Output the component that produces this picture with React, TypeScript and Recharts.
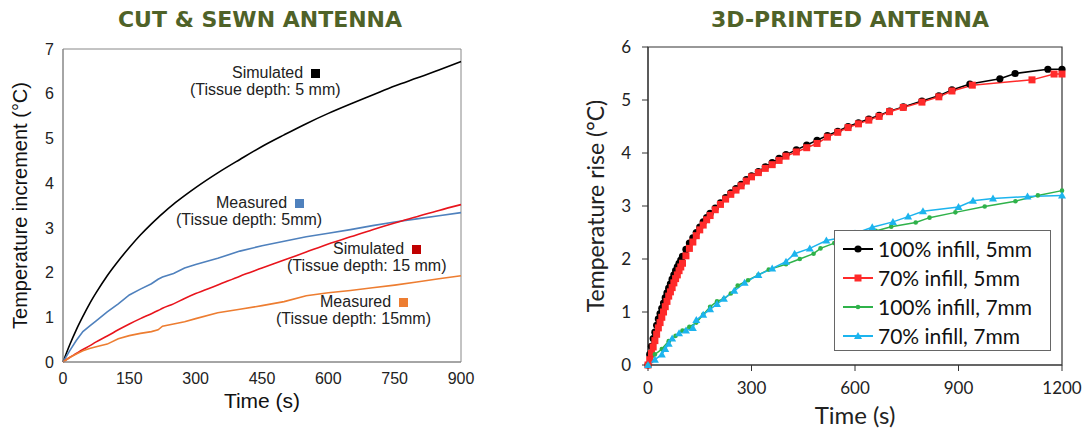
import React from 'react';
import { LineChart, Line, XAxis, YAxis, ReferenceArea, Legend } from 'recharts';

// ---- left panel: cut & sewn antenna ----
const cutTime = [0, 15, 30, 45, 60, 75, 100, 125, 150, 175, 200, 215, 225, 250, 275, 300, 350, 400, 450, 500, 550, 600, 650, 700, 750, 800, 850, 900];
const cutSim5 = [0, 0.38, 0.72, 1.02, 1.3, 1.55, 1.93, 2.26, 2.56, 2.84, 3.09, 3.23, 3.32, 3.53, 3.72, 3.9, 4.23, 4.53, 4.82, 5.08, 5.33, 5.56, 5.77, 5.97, 6.17, 6.35, 6.53, 6.72];
const cutMeas5 = [0, 0.25, 0.48, 0.68, 0.8, 0.92, 1.12, 1.3, 1.5, 1.63, 1.75, 1.85, 1.9, 1.98, 2.1, 2.18, 2.32, 2.48, 2.6, 2.7, 2.8, 2.88, 2.96, 3.05, 3.13, 3.2, 3.27, 3.34];
const cutSim15 = [0, 0.1, 0.19, 0.28, 0.36, 0.45, 0.58, 0.72, 0.85, 0.97, 1.08, 1.15, 1.2, 1.3, 1.42, 1.53, 1.72, 1.92, 2.1, 2.28, 2.46, 2.64, 2.8, 2.96, 3.11, 3.25, 3.39, 3.52];
const cutMeas15 = [0, 0.1, 0.18, 0.25, 0.3, 0.34, 0.4, 0.52, 0.59, 0.64, 0.68, 0.72, 0.8, 0.85, 0.9, 0.97, 1.1, 1.18, 1.26, 1.35, 1.48, 1.55, 1.6, 1.66, 1.72, 1.79, 1.86, 1.93];
const cutTicksX = [0, 150, 300, 450, 600, 750, 900];
const cutTicksY = [0, 1, 2, 3, 4, 5, 6, 7];

const cutData = cutTime.map((t, i) => ({
  t,
  sim5: cutSim5[i],
  meas5: cutMeas5[i],
  sim15: cutSim15[i],
  meas15: cutMeas15[i],
}));

// ---- right panel: 3D-printed antenna ----
const p100x5T = [0, 5, 10, 15, 20, 25, 30, 35, 40, 45, 50, 55, 60, 65, 70, 75, 80, 85, 90, 95, 100, 110, 120, 130, 140, 150, 160, 170, 180, 195, 210, 225, 240, 255, 270, 285, 300, 320, 340, 360, 380, 400, 430, 460, 490, 520, 550, 580, 610, 640, 670, 700, 740, 794, 843, 881, 933, 1020, 1064, 1159, 1200];
const p100x5V = [0, 0.2, 0.35, 0.5, 0.62, 0.75, 0.87, 0.97, 1.07, 1.17, 1.27, 1.36, 1.45, 1.53, 1.62, 1.7, 1.78, 1.85, 1.92, 1.98, 2.05, 2.18, 2.3, 2.4, 2.5, 2.6, 2.7, 2.78, 2.86, 2.96, 3.06, 3.16, 3.25, 3.33, 3.41, 3.5, 3.57, 3.65, 3.74, 3.82, 3.9, 3.97, 4.06, 4.15, 4.24, 4.33, 4.41, 4.5, 4.57, 4.64, 4.71, 4.79, 4.87, 4.98, 5.08, 5.19, 5.3, 5.4, 5.5, 5.58, 5.58];
const p70x5T = [0, 5, 10, 15, 20, 25, 30, 35, 40, 45, 50, 55, 60, 65, 70, 75, 80, 85, 90, 95, 100, 110, 120, 130, 140, 150, 160, 170, 180, 195, 210, 225, 240, 255, 270, 285, 300, 320, 340, 360, 380, 400, 430, 460, 490, 520, 550, 580, 610, 640, 670, 700, 740, 794, 843, 881, 940, 1113, 1177, 1200];
const p70x5V = [0, 0.1, 0.22, 0.34, 0.46, 0.58, 0.7, 0.8, 0.9, 1.0, 1.1, 1.2, 1.3, 1.38, 1.46, 1.55, 1.63, 1.7, 1.78, 1.85, 1.92, 2.06, 2.2, 2.32, 2.44, 2.55, 2.64, 2.74, 2.82, 2.93, 3.03, 3.13, 3.22, 3.3, 3.38, 3.47, 3.55, 3.63, 3.71, 3.78, 3.86, 3.94, 4.02, 4.1, 4.18, 4.3, 4.39, 4.48, 4.55, 4.62, 4.69, 4.78, 4.86, 4.96, 5.06, 5.17, 5.28, 5.38, 5.49, 5.49];
const p100x7T = [0, 20, 40, 60, 80, 100, 120, 140, 160, 180, 200, 220, 240, 260, 290, 320, 350, 400, 440, 480, 500, 540, 580, 620, 660, 705, 776, 816, 891, 976, 1065, 1130, 1200];
const p100x7V = [0, 0.2, 0.3, 0.45, 0.55, 0.65, 0.72, 0.8, 0.95, 1.1, 1.2, 1.25, 1.35, 1.5, 1.6, 1.7, 1.8, 1.9, 2.0, 2.1, 2.2, 2.3, 2.38, 2.45, 2.53, 2.61, 2.69, 2.78, 2.88, 2.99, 3.09, 3.2, 3.29];
const p70x7T = [0, 20, 40, 50, 60, 70, 90, 110, 130, 140, 160, 180, 200, 220, 250, 280, 320, 360, 400, 425, 469, 517, 560, 600, 650, 710, 754, 797, 900, 942, 1000, 1100, 1200];
const p70x7V = [0, 0.1, 0.2, 0.3, 0.4, 0.5, 0.6, 0.65, 0.7, 0.85, 0.95, 1.05, 1.15, 1.25, 1.4, 1.55, 1.7, 1.82, 1.95, 2.1, 2.2, 2.35, 2.4, 2.48, 2.6, 2.7, 2.8, 2.9, 2.98, 3.1, 3.14, 3.18, 3.2];
const printTicksX = [0, 300, 600, 900, 1200];
const printTicksY = [0, 1, 2, 3, 4, 5, 6];

const zip = (ts: number[], vs: number[]) => ts.map((t, i) => ({ t, v: vs[i] }));

const printSeries = [
  { name: '100% infill, 5mm', color: '#000000', marker: 'circle', data: zip(p100x5T, p100x5V) },
  { name: '70% infill, 5mm', color: '#ff2a2a', marker: 'square', data: zip(p70x5T, p70x5V) },
  { name: '100% infill, 7mm', color: '#2fb24a', marker: 'dot', data: zip(p100x7T, p100x7V) },
  { name: '70% infill, 7mm', color: '#1cb4ee', marker: 'triangle', data: zip(p70x7T, p70x7V) },
];

const Marker = ({ kind, cx, cy, color }: { kind: string; cx: number; cy: number; color: string }) => {
  if (kind === 'square') return <rect x={cx - 3.5} y={cy - 3.5} width={7} height={7} fill={color} />;
  if (kind === 'triangle')
    return <polygon points={`${cx},${cy - 4} ${cx - 4},${cy + 3} ${cx + 4},${cy + 3}`} fill={color} />;
  if (kind === 'dot') return <circle cx={cx} cy={cy} r={2.3} fill={color} />;
  return <circle cx={cx} cy={cy} r={3.6} fill={color} />;
};

const notes = [
  { top: 64, left: 232, label: 'Simulated', sub: '(Tissue depth: 5 mm)', subLeft: 190, color: '#000000' },
  { top: 194, left: 216, label: 'Measured', sub: '(Tissue depth: 5mm)', subLeft: 176, color: '#4f81bd' },
  { top: 240, left: 333, label: 'Simulated', sub: '(Tissue depth: 15 mm)', subLeft: 287, color: '#c00000' },
  { top: 293, left: 320, label: 'Measured', sub: '(Tissue depth: 15mm)', subLeft: 276, color: '#ed7d31' },
];

const titleStyle: React.CSSProperties = {
  position: 'absolute',
  top: 8,
  fontFamily: 'DejaVu Sans',
  fontWeight: 'bold',
  fontSize: 22,
  color: '#4f6228',
  textAlign: 'center',
  lineHeight: '24px',
  whiteSpace: 'nowrap',
};

const PrintLegend = () => (
  <div style={{ width: 217, height: 121, border: '1px solid #666', background: '#fff', boxSizing: 'border-box', paddingTop: 3 }}>
    {printSeries.map((s) => (
      <div key={s.name} style={{ display: 'flex', alignItems: 'center', height: 29 }}>
        <svg width={44} height={20} style={{ marginLeft: 8 }}>
          <line x1={0} y1={10} x2={30} y2={10} stroke={s.color} strokeWidth={2} />
          <Marker kind={s.marker} cx={15} cy={10} color={s.color} />
        </svg>
        <span style={{ fontFamily: 'Lato', fontSize: 21, color: '#111', marginLeft: -9 }}>{s.name}</span>
      </div>
    ))}
  </div>
);

export default function App() {
  const leftTick = { fontFamily: 'Liberation Sans', fontSize: 16, fill: '#222' };
  const rightTick = { fontFamily: 'Lato', fontSize: 17, fill: '#222' };
  return (
    <div style={{ position: 'absolute', left: 0, top: 0, width: 1088, height: 430, background: '#fff' }}>
      <div style={{ ...titleStyle, left: 100, width: 320 }}>CUT &amp; SEWN ANTENNA</div>
      <div style={{ ...titleStyle, left: 690, width: 320 }}>3D-PRINTED ANTENNA</div>

      <div style={{ position: 'absolute', left: 0, top: 0 }}>
        <LineChart width={480} height={430} data={cutData} margin={{ top: 49, right: 19, bottom: 0, left: 0 }}>
          <XAxis
            dataKey="t"
            type="number"
            domain={[0, 900]}
            ticks={cutTicksX}
            height={68}
            tickSize={0}
            tickMargin={11}
            stroke="#888"
            tick={leftTick}
            label={{ value: 'Time (s)', position: 'insideBottom', offset: 22, style: { fontFamily: 'Liberation Sans', fontSize: 21, fill: '#111' } }}
          />
          <YAxis
            type="number"
            domain={[0, 7]}
            ticks={cutTicksY}
            width={63}
            tickSize={0}
            tickMargin={9}
            stroke="#888"
            tick={leftTick}
            label={{ value: 'Temperature increment (°C)', angle: -90, position: 'insideLeft', offset: 20, style: { textAnchor: 'middle', fontFamily: 'Liberation Sans', fontSize: 20, fill: '#111' } }}
          />
          <ReferenceArea x1={0} x2={900} y1={0} y2={7} fill="none" stroke="#888" strokeWidth={1} />
          <Line dataKey="sim5" type="monotone" stroke="#000000" strokeWidth={1.6} dot={false} isAnimationActive={false} />
          <Line dataKey="meas5" type="linear" stroke="#4f81bd" strokeWidth={1.6} dot={false} isAnimationActive={false} />
          <Line dataKey="sim15" type="monotone" stroke="#e8141c" strokeWidth={1.6} dot={false} isAnimationActive={false} />
          <Line dataKey="meas15" type="linear" stroke="#ed7d31" strokeWidth={1.6} dot={false} isAnimationActive={false} />
        </LineChart>
      </div>

      {notes.map((n) => (
        <React.Fragment key={n.sub}>
          <div style={{ position: 'absolute', left: n.left, top: n.top, fontFamily: 'Liberation Sans', fontSize: 16, lineHeight: '18px', color: '#222', whiteSpace: 'nowrap' }}>
            {n.label}
            <span style={{ display: 'inline-block', width: 9, height: 9, background: n.color, marginLeft: 8 }} />
          </div>
          <div style={{ position: 'absolute', left: n.subLeft, top: n.top + 17, fontFamily: 'Liberation Sans', fontSize: 16, lineHeight: '18px', color: '#222', whiteSpace: 'nowrap' }}>
            {n.sub}
          </div>
        </React.Fragment>
      ))}

      <div style={{ position: 'absolute', left: 580, top: 0 }}>
        <LineChart width={508} height={430} margin={{ top: 47, right: 26, bottom: 0, left: 0 }}>
          <XAxis
            dataKey="t"
            type="number"
            domain={[0, 1200]}
            ticks={printTicksX}
            height={65}
            tickSize={6}
            tickMargin={11}
            stroke="#333"
            tick={rightTick}
            label={{ value: 'Time (s)', position: 'insideBottom', offset: 6, style: { fontFamily: 'Lato', fontSize: 24, fill: '#222' } }}
          />
          <XAxis xAxisId="inner" type="number" domain={[0, 1200]} ticks={printTicksX} mirror axisLine={false} tick={false} tickSize={6} stroke="#333" />
          <YAxis
            type="number"
            domain={[0, 6]}
            ticks={printTicksY}
            width={68}
            tickSize={6}
            tickMargin={11}
            stroke="#333"
            tick={rightTick}
            label={{ value: 'Temperature rise (°C)', angle: -90, position: 'insideLeft', offset: 16, style: { textAnchor: 'middle', fontFamily: 'Lato', fontSize: 23, fill: '#222' } }}
          />
          <YAxis yAxisId="inner" type="number" domain={[0, 6]} ticks={printTicksY} mirror axisLine={false} tick={false} tickSize={6} stroke="#333" />
          <ReferenceArea x1={0} x2={1200} y1={0} y2={6} fill="none" stroke="#333" strokeWidth={1.2} />
          {printSeries.map((s) => (
            <Line
              key={s.name}
              data={s.data}
              dataKey="v"
              name={s.name}
              type="linear"
              stroke={s.color}
              strokeWidth={1.5}
              isAnimationActive={false}
              dot={(p: any) => <Marker key={`${s.name}-${p.index}`} kind={s.marker} cx={p.cx} cy={p.cy} color={s.color} />}
            />
          ))}
          <Legend
            layout="vertical"
            align="center"
            verticalAlign="middle"
            content={() => <PrintLegend />}
            wrapperStyle={{ left: 254, top: 230, width: 217, height: 121 }}
          />
        </LineChart>
      </div>
    </div>
  );
}
